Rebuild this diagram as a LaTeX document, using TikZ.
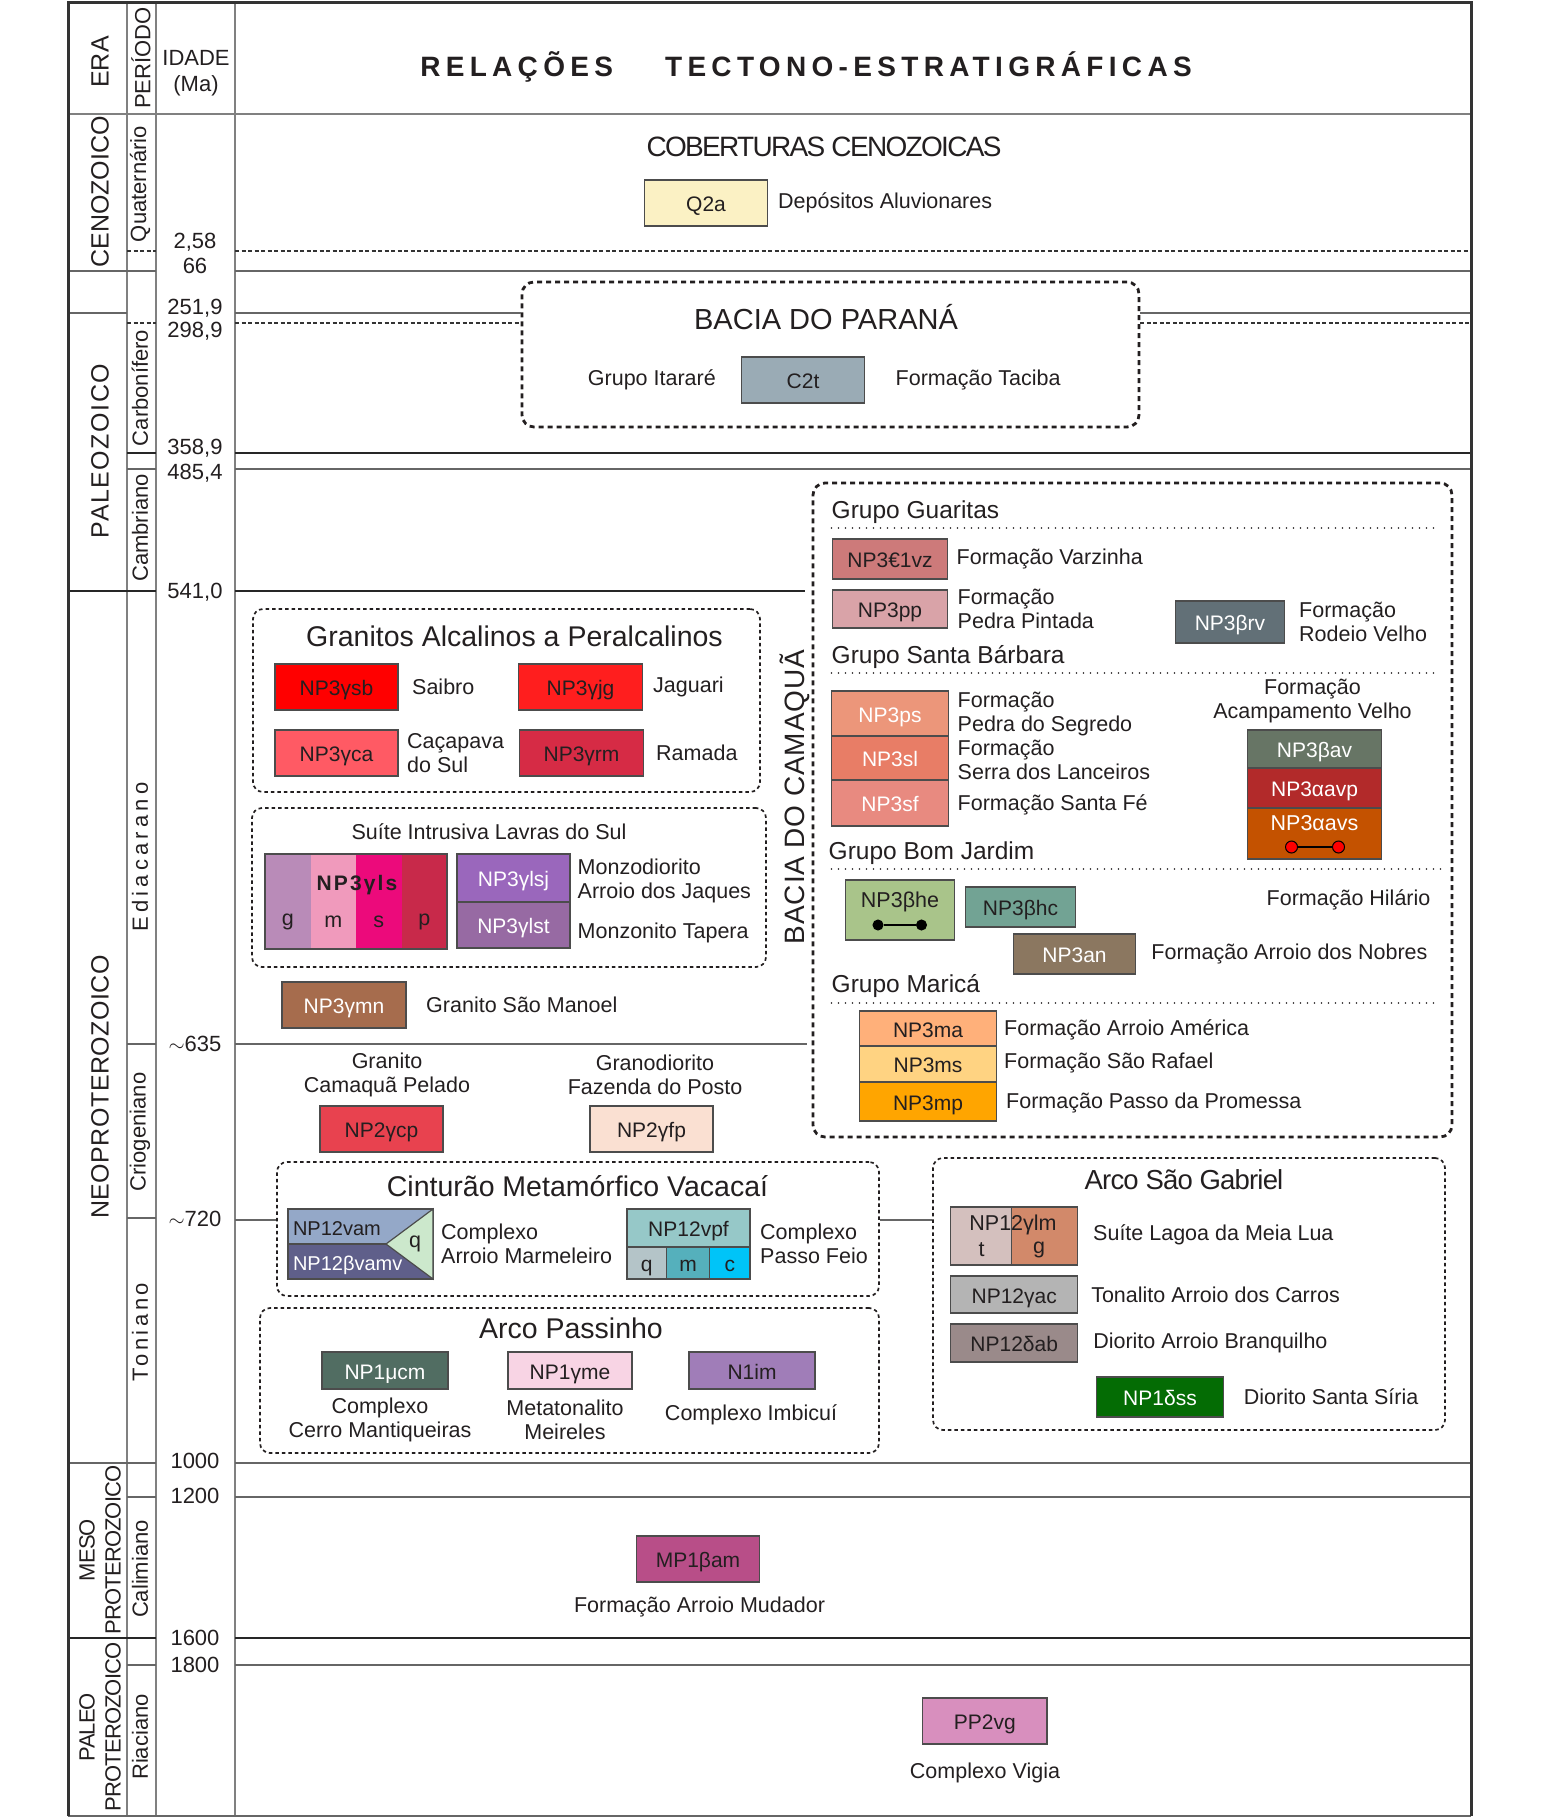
\documentclass[tikz,border=0pt]{standalone}
\usepackage{fontspec}
\setmainfont{Liberation Sans}
\usepackage{tikz}
\usetikzlibrary{positioning}

\definecolor{ink}{HTML}{231F20}
\definecolor{uq2a}{HTML}{FBF1C4}
\definecolor{uc2t}{HTML}{9AABB5}
\definecolor{usb}{HTML}{FF0000}
\definecolor{uca}{HTML}{FF5A64}
\definecolor{ujg}{HTML}{FF1E1E}
\definecolor{urm}{HTML}{D62B45}
\definecolor{ulsg}{HTML}{B98BB8}
\definecolor{ulsm}{HTML}{F09ABC}
\definecolor{ulss}{HTML}{EC0A7B}
\definecolor{ulsp}{HTML}{C8294A}
\definecolor{ulsj}{HTML}{9A67BC}
\definecolor{ulst}{HTML}{976AA3}
\definecolor{umn}{HTML}{A66C4D}
\definecolor{ucp}{HTML}{E8424F}
\definecolor{ufp}{HTML}{FAE0D2}
\definecolor{uvam}{HTML}{94A8C8}
\definecolor{uvamv}{HTML}{5F5F8A}
\definecolor{uvq}{HTML}{CCE8CC}
\definecolor{uvpf}{HTML}{96C8C8}
\definecolor{uvpq}{HTML}{B4C4C8}
\definecolor{uvpm}{HTML}{55B0BC}
\definecolor{uvpc}{HTML}{00C4F8}
\definecolor{ucm}{HTML}{516D62}
\definecolor{ume}{HTML}{F8D4E4}
\definecolor{uim}{HTML}{A07DB8}
\definecolor{uvz}{HTML}{CD7A7A}
\definecolor{upp}{HTML}{D9A3A8}
\definecolor{urv}{HTML}{627077}
\definecolor{ups}{HTML}{EC967A}
\definecolor{usl}{HTML}{E87D66}
\definecolor{usf}{HTML}{E88A80}
\definecolor{ubav}{HTML}{677565}
\definecolor{uavp}{HTML}{B22A2A}
\definecolor{uavs}{HTML}{C45200}
\definecolor{uhe}{HTML}{A9C48A}
\definecolor{uhc}{HTML}{72A394}
\definecolor{uan}{HTML}{8B7760}
\definecolor{uma}{HTML}{FFB07A}
\definecolor{ums}{HTML}{FFD382}
\definecolor{ump}{HTML}{FFA500}
\definecolor{ulmt}{HTML}{D4C0BE}
\definecolor{ulmg}{HTML}{D2896A}
\definecolor{uac}{HTML}{B4B4B4}
\definecolor{uab}{HTML}{9A8A8A}
\definecolor{uss}{HTML}{046C04}
\definecolor{uam}{HTML}{B84E88}
\definecolor{uvg}{HTML}{D88FBE}

\begin{document}
\begin{tikzpicture}[
        x = 1pt, y = -1pt,
        every node/.style = {text = ink},
        frame/.style = {draw = black!80, line width = 3pt},
        col/.style = {draw = black!50, line width = 2pt},
        tline/.style = {draw = black!60, line width = 1.6pt},
        tdark/.style = {draw = black!85, line width = 1.4pt},
        tdash/.style = {draw = black!80, line width = 1.2pt, dash pattern = on 4pt off 2.5pt},
        sepdot/.style = {draw = ink, line width = 1.8pt, line cap = round,
          dash pattern = on 0pt off 7pt},
        grp/.style = {draw = ink, line width = 1.7pt, dash pattern = on 3.5pt off 3pt,
          rounded corners = 10pt, inner sep = 0pt},
        basin/.style = {draw = ink, line width = 2.8pt, dash pattern = on 5pt off 4pt,
          rounded corners = 12pt, inner sep = 0pt},
        unit/.style = {draw = black!70, line width = 1.2pt, rectangle, inner sep = 0pt,
          outer sep = 0pt, minimum width = 123pt, minimum height = 46pt,
          text height = 17pt, text depth = 0pt,
          font = \fontsize{21}{24}\selectfont},
        stripe/.style = {rectangle, inner sep = 0pt, outer sep = 0pt,
          minimum width = 45.5pt, minimum height = 95pt},
        dot/.style = {circle, draw = black, line width = 1pt, inner sep = 0pt,
          minimum size = 12pt},
        lbl/.style = {inner sep = 0pt, font = \fontsize{21.5}{24}\selectfont},
        grplbl/.style = {inner sep = 0pt, anchor = west, font = \fontsize{24.5}{26}\selectfont},
        ttl/.style = {inner sep = 0pt, font = \fontsize{28.5}{30}\selectfont},
        age/.style = {inner sep = 0pt, font = \fontsize{22}{26}\selectfont},
        eralbl/.style = {inner sep = 0pt, rotate = 90, font = \fontsize{25}{27}\selectfont},
        perlbl/.style = {inner sep = 0pt, rotate = 90, font = \fontsize{22}{24}\selectfont},
      ]
        \useasboundingbox (0,0) rectangle (1566,1817);

        \node [basin, minimum width = 617pt, minimum height = 145pt] (parana) at (830.5,354.5) {};
        \node [basin, minimum width = 639pt, minimum height = 654pt] (camaqua) at (1132.5,810) {};
        \node [grp, minimum width = 507pt, minimum height = 183pt] (alcalinos) at (506.5,700.5) {};
        \node [grp, minimum width = 514pt, minimum height = 159pt] (lavras) at (509,887.5) {};
        \node [grp, minimum width = 602pt, minimum height = 134pt] (vacacai) at (578,1229) {};
        \node [grp, minimum width = 619pt, minimum height = 145pt] (passinho) at (569.5,1380.5) {};
        \node [grp, minimum width = 512pt, minimum height = 272pt] (saogabriel) at (1189,1294) {};

        \coordinate (t251) at (235,313);
        \coordinate (t298) at (235,323);
        \coordinate (t720) at (235,1220);

        % columns and time lines
        \foreach \cx in {127, 156, 235}
          \draw [col] (\cx,3) -- (\cx,1816);
        \draw [col] (68,114) -- (1471,114);
        \foreach \ly in {271, 313, 1463}
          \draw [tline] (68,\ly) -- (127,\ly);
        \foreach \ly in {591, 1638}
          \draw [tdark] (68,\ly) -- (127,\ly);
        \foreach \ly in {271, 469, 1044, 1218, 1463, 1497, 1665}
          \draw [tline] (127,\ly) -- (156,\ly);
        \foreach \ly in {453, 591, 1638}
          \draw [tdark] (127,\ly) -- (156,\ly);
        \foreach \ly in {251, 323}
          \draw [tdash] (127,\ly) -- (156,\ly);
        \draw [tdash] (235,251) -- (1471,251);
        \foreach \ly in {271, 469, 1463, 1497, 1665}
          \draw [tline] (235,\ly) -- (1471,\ly);
        \foreach \ly in {453, 1638}
          \draw [tdark] (235,\ly) -- (1471,\ly);
        \draw [tline] (t251) -- (parana.west |- t251);
        \draw [tline] (parana.east |- t251) -- (1471,313);
        \draw [tdash] (t298) -- (parana.west |- t298);
        \draw [tdash] (parana.east |- t298) -- (1471,323);
        \draw [tdark] (235,591) -- (805,591);
        \draw [tline] (235,1044) -- (807,1044);
        \draw [tline] (t720) -- (vacacai.west |- t720);
        \draw [tline] (vacacai.east |- t720) -- (saogabriel.west |- t720);
        \draw [tline] (68,1816) -- (1471,1816);
        \draw [frame] (68,1816) -- (68,3) -- (1471,3) -- (1471,1816);

        % header
        \node [eralbl] (era) at (100,62) {ERA};
        \node [perlbl] (periodo) at (141,58) {PERÍODO};
        \node [age, align = center] (idade) at (196,73) {IDADE\\(Ma)};
        \node [font = \fontsize{28}{30}\selectfont\bfseries\addfontfeatures{LetterSpace=19}]
          (titulo) at (806,67) {RELAÇÕES\hspace{52pt}TECTONO-ESTRATIGRÁFICAS};

        \foreach \ly/\txt in {242/{2,58}, 266/66, 308/{251,9}, 331/{298,9}, 448/{358,9},
            473/{485,4}, 592/{541,0}, 1044/{$\sim$635}, 1219/{$\sim$720}, 1461/1000,
            1496/1200, 1638/1600, 1665/1800}
          \node [age] (age\ly) at (195,\ly) {\txt};

        \node [eralbl] (ceno) at (100,192) {CENOZOICO};
        \node [eralbl, font = \fontsize{25}{27}\selectfont\addfontfeatures{LetterSpace=6}]
          (paleoz) at (100,451) {PALEOZOICO};
        \node [eralbl, font = \fontsize{25}{27}\selectfont\addfontfeatures{LetterSpace=2}]
          (neoprot) at (100,1087) {NEOPROTEROZOICO};
        \node [eralbl, align = center, font = \fontsize{22}{26}\selectfont\addfontfeatures{LetterSpace=-4}]
          (mesoprot) at (100,1550) {MESO\\PROTEROZOICO};
        \node [eralbl, align = center, font = \fontsize{22}{26}\selectfont\addfontfeatures{LetterSpace=-4}]
          (paleoprot) at (100,1727) {PALEO\\PROTEROZOICO};

        \node [perlbl] (quat) at (140,184) {Quaternário};
        \node [perlbl] (carb) at (140,388) {Carbonífero};
        \node [perlbl] (camb) at (140,528) {Cambriano};
        \node [perlbl, font = \fontsize{22}{24}\selectfont\addfontfeatures{LetterSpace=19}]
          (edia) at (140,857) {Ediacarano};
        \node [perlbl] (crio) at (140,1132) {Criogeniano};
        \node [perlbl, font = \fontsize{22}{24}\selectfont\addfontfeatures{LetterSpace=16}]
          (toni) at (140,1332) {Toniano};
        \node [perlbl] (cali) at (140,1569) {Calimiano};
        \node [perlbl] (riac) at (140,1737) {Riaciano};

        % cenozoico
        \node [ttl, font = \fontsize{28}{30}\selectfont\addfontfeatures{LetterSpace=-6}]
          (cobert) at (824,147) {COBERTURAS CENOZOICAS};
        \node [unit, fill = uq2a] (q2a) at (706,203) {Q2a};
        \node [lbl, right = 10.5pt of q2a] (aluv) {Depósitos Aluvionares};

        % bacia do parana
        \node [ttl, font = \fontsize{29}{30}\selectfont] (paranattl) at (826,317) {BACIA DO PARANÁ};
        \node [unit, fill = uc2t] (c2t) at (803,380) {C2t};
        \node [lbl, left = 25.5pt of c2t] (itarare) {Grupo Itararé};
        \node [lbl, right = 31pt of c2t] (taciba) {Formação Taciba};

        % granitos alcalinos
        \node [ttl] (alcttl) at (514.5,636) {Granitos Alcalinos a Peralcalinos};
        \node [unit, fill = usb] (sb) at (336.5,687) {NP3γsb};
        \node [lbl, right = 14pt of sb] (saibro) {Saibro};
        \node [unit, fill = uca] (ca) at (336.5,753) {NP3γca};
        \node [lbl, right = 9pt of ca, align = left] (cacapava) {Caçapava\\do Sul};
        \node [unit, fill = ujg, minimum width = 124pt] (jg) at (580.5,687) {NP3γjg};
        \node [lbl, right = 10.5pt of jg] (jaguari) {Jaguari};
        \node [unit, fill = urm, minimum width = 124pt] (rm) at (581.5,753) {NP3γrm};
        \node [lbl, right = 12.5pt of rm] (ramada) {Ramada};

        % lavras do sul
        \node [lbl] (lavrasttl) at (489,832) {Suíte Intrusiva Lavras do Sul};
        \node [stripe, fill = ulsg] (lsg) at (287.75,901.5) {};
        \node [stripe, fill = ulsm, right = 0pt of lsg] (lsm) {};
        \node [stripe, fill = ulss, right = 0pt of lsm] (lss) {};
        \node [stripe, fill = ulsp, right = 0pt of lss] (lsp) {};
        \draw [draw = black!70, line width = 1.2pt] (lsg.north west) rectangle (lsp.south east);
        \node [font = \fontsize{21}{24}\selectfont\bfseries\addfontfeatures{LetterSpace=10}, inner sep = 0pt]
          (lsname) at (357,885) {NP3γls};
        \node [lbl] (lsgl) at (287.75,922) {g};
        \node [lbl] (lsml) at (333.25,922) {m};
        \node [lbl] (lssl) at (378.75,922) {s};
        \node [lbl] (lspl) at (424.25,922) {p};
        \node [unit, fill = ulsj, text = white, minimum width = 113pt, minimum height = 48pt]
          (lsj) at (513.5,878) {NP3γlsj};
        \node [unit, fill = ulst, text = white, minimum width = 113pt, below = 0pt of lsj] (lst) {NP3γlst};
        \node [lbl, align = left, anchor = west] (jaques) at (577.5,881) {Monzodiorito\\Arroio dos Jaques};
        \node [lbl, anchor = west] (tapera) at (577.5,933) {Monzonito Tapera};

        \node [unit, fill = umn, text = white, minimum width = 124pt] (mn) at (344,1005) {NP3γmn};
        \node [lbl, right = 20pt of mn] (manoel) {Granito São Manoel};

        % criogeniano
        \node [lbl, align = center] (pelado) at (387,1075) {Granito\\Camaquã Pelado};
        \node [unit, fill = ucp] (cp) at (381.5,1129) {NP2γcp};
        \node [lbl, align = center] (posto) at (655,1075) {Granodiorito\\Fazenda do Posto};
        \node [unit, fill = ufp] (fp) at (651.5,1129) {NP2γfp};

        % cinturao vacacai
        \node [ttl] (vacttl) at (577.5,1186) {Cinturão Metamórfico Vacacaí};
        \node [unit, fill = uvam, minimum width = 145pt, minimum height = 35pt, text width = 135pt,
          align = left, font = \fontsize{20}{22}\selectfont] (vam) at (360.5,1226.5) {NP12vam};
        \node [unit, fill = uvamv, text = white, minimum width = 145pt, minimum height = 35pt,
          text width = 135pt, align = left, font = \fontsize{20}{22}\selectfont,
          below = 0pt of vam] (vamv) {NP12βvamv};
        \draw [draw = black!70, line width = 1.2pt, fill = uvq]
          (vam.north east) -- (vamv.south east) -- (386,1244) -- cycle;
        \node [lbl] (vq) at (415,1244) {q};
        \node [lbl, align = left, anchor = west] (marmeleiro) at (441,1244) {Complexo\\Arroio Marmeleiro};
        \node [unit, fill = uvpf, minimum height = 38pt] (vpf) at (688.5,1228) {NP12vpf};
        \node [unit, fill = uvpq, minimum width = 39.3pt, minimum height = 32pt, anchor = north west]
          (vpq) at (vpf.south west) {q};
        \node [unit, fill = uvpm, minimum width = 43.4pt, minimum height = 32pt, right = 0pt of vpq] (vpm) {m};
        \node [unit, fill = uvpc, minimum width = 40.3pt, minimum height = 32pt, right = 0pt of vpm] (vpc) {c};
        \node [lbl, align = left, anchor = west] (passofeio) at (760,1244) {Complexo\\Passo Feio};

        % arco passinho
        \node [ttl] (passttl) at (571,1328) {Arco Passinho};
        \node [unit, fill = ucm, text = white, minimum width = 126pt, minimum height = 37pt]
          (cm) at (385,1370.5) {NP1μcm};
        \node [lbl, align = center] (mantiq) at (380,1419.5) {Complexo\\Cerro Mantiqueiras};
        \node [unit, fill = ume, minimum width = 124pt, minimum height = 37pt] (me) at (570,1370.5) {NP1γme};
        \node [lbl, align = center] (meireles) at (565,1419.5) {Metatonalito\\Meireles};
        \node [unit, fill = uim, minimum width = 126pt, minimum height = 37pt] (im) at (752,1370.5) {N1im};
        \node [lbl] (imbicui) at (751,1415) {Complexo Imbicuí};

        % bacia do camaqua
        \node [ttl, rotate = 90, font = \fontsize{28}{30}\selectfont\addfontfeatures{LetterSpace=3}]
          (camttl) at (795,797) {BACIA DO CAMAQUÃ};
        \node [grplbl] (guaritas) at (831.5,512) {Grupo Guaritas};
        \draw [sepdot] (831.5,528) -- (1435,528);
        \node [unit, fill = uvz, minimum width = 115pt, minimum height = 40pt] (vz) at (890,559) {NP3€1vz};
        \node [lbl, right = 9pt of vz] (varzinha) {Formação Varzinha};
        \node [unit, fill = upp, minimum width = 115pt, minimum height = 38pt] (pp) at (890,609) {NP3pp};
        \node [lbl, align = left, right = 10pt of pp] (pintada) {Formação\\Pedra Pintada};
        \node [unit, fill = urv, text = white, minimum width = 109pt, minimum height = 42pt]
          (rv) at (1230,622) {NP3βrv};
        \node [lbl, align = left, right = 14.5pt of rv] (rodeio) {Formação\\Rodeio Velho};

        \node [grplbl] (santabarbara) at (831.5,657) {Grupo Santa Bárbara};
        \draw [sepdot] (831.5,673) -- (1435,673);
        \node [unit, fill = ups, text = white, minimum width = 117pt, minimum height = 45pt]
          (ps) at (890,713.5) {NP3ps};
        \node [unit, fill = usl, text = white, minimum width = 117pt, minimum height = 44pt,
          below = 0pt of ps] (sl) {NP3sl};
        \node [unit, fill = usf, text = white, minimum width = 117pt, below = 0pt of sl] (sf) {NP3sf};
        \node [lbl, align = left, anchor = west] (segredo) at (957.5,714) {Formação\\Pedra do Segredo};
        \node [lbl, align = left, anchor = west] (lanceiros) at (957.5,760) {Formação\\Serra dos Lanceiros};
        \node [lbl, anchor = west] (santafe) at (957.5,805) {Formação Santa Fé};
        \node [lbl, align = center] (acampamento) at (1312.5,701) {Formação\\Acampamento Velho};
        \node [unit, fill = ubav, text = white, minimum width = 134pt, minimum height = 38pt]
          (bav) at (1314.5,749) {NP3βav};
        \node [unit, fill = uavp, text = white, minimum width = 134pt, minimum height = 40pt,
          below = 0pt of bav] (avp) {NP3αavp};
        \node [unit, fill = uavs, minimum width = 134pt, minimum height = 51pt, below = 0pt of avp] (avs) {};
        \node [lbl, text = white] (avslbl) at (1314.5,823) {NP3αavs};
        \node [dot, fill = red] (avs1) at (1291.5,847) {};
        \node [dot, fill = red] (avs2) at (1338.5,847) {};
        \draw [line width = 1.6pt] (avs1) -- (avs2);

        \node [grplbl] (bomjardim) at (828.5,853) {Grupo Bom Jardim};
        \draw [sepdot] (831.5,869) -- (1441,869);
        \node [unit, fill = uhe, minimum width = 108.5pt, minimum height = 60pt] (he) at (900,910) {};
        \node [lbl] (helbl) at (900,902) {NP3βhe};
        \node [dot, fill = black, minimum size = 10pt] (he1) at (878,925) {};
        \node [dot, fill = black, minimum size = 10pt] (he2) at (921.5,925) {};
        \draw [line width = 1.6pt] (he1) -- (he2);
        \node [unit, fill = uhc, minimum width = 109.5pt, minimum height = 40pt] (hc) at (1020.5,907) {NP3βhc};
        \node [lbl, anchor = west] (hilario) at (1266.5,900) {Formação Hilário};
        \node [unit, fill = uan, text = white, minimum width = 122.5pt, minimum height = 40pt]
          (an) at (1074.5,954) {NP3an};
        \node [lbl, right = 15.5pt of an] (nobres) {Formação Arroio dos Nobres};

        \node [grplbl] (marica) at (831.5,986) {Grupo Maricá};
        \draw [sepdot] (831.5,1003) -- (1436,1003);
        \node [unit, fill = uma, minimum width = 137.5pt, minimum height = 35pt] (ma) at (928,1028.5) {NP3ma};
        \node [unit, fill = ums, minimum width = 137.5pt, minimum height = 36pt, below = 0pt of ma] (ms) {NP3ms};
        \node [unit, fill = ump, minimum width = 137.5pt, minimum height = 39pt, below = 0pt of ms] (mp) {NP3mp};
        \node [lbl, anchor = west] (america) at (1004,1030) {Formação Arroio América};
        \node [lbl, anchor = west] (rafael) at (1004,1063) {Formação São Rafael};
        \node [lbl, anchor = west] (promessa) at (1006,1103) {Formação Passo da Promessa};

        % arco sao gabriel
        \node [ttl, font = \fontsize{27.5}{30}\selectfont\addfontfeatures{LetterSpace=-3}]
          (gabttl) at (1184,1180) {Arco São Gabriel};
        \node [unit, fill = ulmt, minimum width = 61pt, minimum height = 58pt] (lmt) at (981.3,1236) {};
        \node [unit, fill = ulmg, minimum width = 65.8pt, minimum height = 58pt, right = 0pt of lmt] (lmg) {};
        \node [lbl] (lmlbl) at (1013,1225) {NP12γlm};
        \node [lbl] (lmtl) at (981.5,1250) {t};
        \node [lbl] (lmgl) at (1039,1250) {g};
        \node [lbl, anchor = west] (meialua) at (1093,1235) {Suíte Lagoa da Meia Lua};
        \node [unit, fill = uac, minimum width = 126.7pt, minimum height = 37pt] (ac) at (1014.2,1294.5) {NP12γac};
        \node [lbl, right = 13.5pt of ac] (carros) {Tonalito Arroio dos Carros};
        \node [unit, fill = uab, minimum width = 126.7pt, minimum height = 38pt] (ab) at (1014.2,1343) {NP12δab};
        \node [lbl, right = 15.5pt of ab] (branquilho) {Diorito Arroio Branquilho};
        \node [unit, fill = uss, text = white, minimum width = 127.7pt, minimum height = 40pt]
          (ss) at (1160,1397) {NP1δss};
        \node [lbl, right = 19.8pt of ss] (siria) {Diorito Santa Síria};

        % meso e paleoproterozoico
        \node [unit, fill = uam] (am) at (698,1559) {MP1βam};
        \node [lbl] (mudador) at (699.5,1607) {Formação Arroio Mudador};
        \node [unit, fill = uvg, minimum width = 124.5pt] (vg) at (984.8,1721) {PP2vg};
        \node [lbl] (vigia) at (985,1773) {Complexo Vigia};
      \end{tikzpicture}
\end{document}
